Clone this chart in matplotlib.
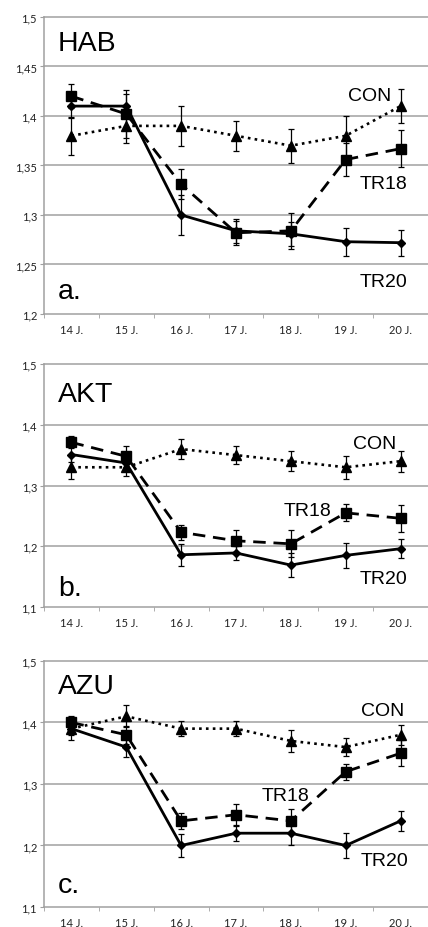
import matplotlib
matplotlib.use("Agg")
import matplotlib.pyplot as plt
from matplotlib.ticker import FuncFormatter

days = ["14 J.", "15 J.", "16 J.", "17 J.", "18 J.", "19 J.", "20 J."]

# Panel a: HAB
hab_tr20 = [1.41, 1.41, 1.30, 1.284, 1.281, 1.273, 1.272]
hab_tr20_err = [0.012, 0.012, 0.02, 0.012, 0.012, 0.014, 0.013]
hab_tr18 = [1.42, 1.402, 1.331, 1.282, 1.284, 1.356, 1.367]
hab_tr18_err = [0.012, 0.024, 0.015, 0.012, 0.018, 0.017, 0.019]
hab_con = [1.38, 1.39, 1.39, 1.38, 1.37, 1.38, 1.41]
hab_con_err = [0.019, 0.017, 0.02, 0.015, 0.017, 0.02, 0.017]

# Panel b: AKT
akt_tr20 = [1.351, 1.337, 1.186, 1.189, 1.169, 1.185, 1.196]
akt_tr20_err = [0.012, 0.012, 0.018, 0.012, 0.02, 0.021, 0.016]
akt_tr18 = [1.371, 1.348, 1.223, 1.209, 1.204, 1.255, 1.246]
akt_tr18_err = [0.01, 0.017, 0.012, 0.018, 0.022, 0.014, 0.022]
akt_con = [1.33, 1.33, 1.36, 1.35, 1.34, 1.33, 1.34]
akt_con_err = [0.019, 0.015, 0.017, 0.015, 0.016, 0.019, 0.017]

# Panel c: AZU
azu_tr20 = [1.39, 1.36, 1.20, 1.22, 1.22, 1.20, 1.24]
azu_tr20_err = [0.01, 0.016, 0.018, 0.013, 0.02, 0.021, 0.016]
azu_tr18 = [1.40, 1.38, 1.24, 1.25, 1.24, 1.32, 1.35]
azu_tr18_err = [0.01, 0.015, 0.013, 0.018, 0.02, 0.013, 0.021]
azu_con = [1.39, 1.41, 1.39, 1.39, 1.37, 1.36, 1.38]
azu_con_err = [0.019, 0.018, 0.012, 0.012, 0.018, 0.015, 0.016]

panels = [
    dict(name="HAB", letter="a.", ylim=(1.2, 1.5), step=0.05,
         tr20=(hab_tr20, hab_tr20_err), tr18=(hab_tr18, hab_tr18_err), con=(hab_con, hab_con_err),
         rect=[0.1028, 0.6606, 0.8972, 0.32],
         lab=dict(CON=(0.849, 0.734), TR18=(0.883, 0.441), TR20=(0.883, 0.108)),
         name_y=0.912, letter_y=0.077),
    dict(name="AKT", letter="b.", ylim=(1.1, 1.5), step=0.1,
         tr20=(akt_tr20, akt_tr20_err), tr18=(akt_tr18, akt_tr18_err), con=(akt_con, akt_con_err),
         rect=[0.1028, 0.3448, 0.8972, 0.2619],
         lab=dict(CON=(0.862, 0.671), TR18=(0.685, 0.399), TR20=(0.883, 0.119)),
         name_y=0.877, letter_y=0.078),
    dict(name="AZU", letter="c.", ylim=(1.1, 1.5), step=0.1,
         tr20=(azu_tr20, azu_tr20_err), tr18=(azu_tr18, azu_tr18_err), con=(azu_con, azu_con_err),
         rect=[0.1028, 0.02155, 0.8972, 0.2651],
         lab=dict(CON=(0.883, 0.80), TR18=(0.628, 0.455), TR20=(0.888, 0.191)),
         name_y=0.898, letter_y=0.089),
]

fig = plt.figure(figsize=(4.28, 9.28), dpi=100)
fig.patch.set_facecolor("white")
x = list(range(len(days)))
grid_c = "#a0a0a0"

def fmt(v, pos):
    s = ("%.2f" % v).rstrip("0")
    if s.endswith("."):
        s = s[:-1]
    return s.replace(".", ",")

for p in panels:
    ax = fig.add_axes(p["rect"])
    lo, hi = p["ylim"]
    ax.set_ylim(lo, hi)
    ax.set_xlim(-0.5, len(days) - 0.5)
    n = int(round((hi - lo) / p["step"]))
    yt = [lo + i * p["step"] for i in range(n + 1)]
    ax.set_yticks(yt)
    ax.yaxis.set_major_formatter(FuncFormatter(fmt))
    for yv in yt[1:]:
        ax.axhline(yv, color=grid_c, lw=1.1, zorder=0, clip_on=False)
    ax.set_xticks(x)
    ax.set_xticklabels(days, family="Lato")
    for t in ax.get_yticklabels():
        t.set_family("Lato")
    ax.set_xticks([i - 0.5 for i in range(len(days) + 1)], minor=True)
    ax.tick_params(axis="x", which="major", length=0, pad=7, labelsize=8, labelcolor="#222222")
    ax.tick_params(axis="x", which="minor", length=3, color=grid_c, direction="out")
    ax.tick_params(axis="y", length=3, color=grid_c, labelsize=8, labelcolor="#222222", pad=2)
    for s in ["top", "right"]:
        ax.spines[s].set_visible(False)
    for s in ["left", "bottom"]:
        ax.spines[s].set_color(grid_c)
        ax.spines[s].set_linewidth(1.1)

    y, e = p["con"]
    ax.errorbar(x, y, yerr=e, color="black", ls=(0, (1, 1.6)), lw=1.9, marker="^", ms=7.5,
                capsize=2.5, elinewidth=0.9, capthick=0.9, zorder=3)
    y, e = p["tr18"]
    ax.errorbar(x, y, yerr=e, color="black", ls=(0, (4.5, 2.8)), lw=2.0, marker="s", ms=7,
                capsize=2.5, elinewidth=0.9, capthick=0.9, zorder=4)
    y, e = p["tr20"]
    ax.errorbar(x, y, yerr=e, color="black", ls="-", lw=2.0, marker="D", ms=4.5,
                capsize=2.5, elinewidth=0.9, capthick=0.9, zorder=5)

    ax.text(0.036, p["name_y"], p["name"], transform=ax.transAxes, fontsize=20.5,
            family="Liberation Sans", va="center", ha="left")
    ax.text(0.036, p["letter_y"], p["letter"], transform=ax.transAxes, fontsize=20.5,
            family="Liberation Sans", va="center", ha="left")
    for k, (lx, ly) in p["lab"].items():
        ax.text(lx, ly, k, transform=ax.transAxes, fontsize=14,
                family="Liberation Sans", va="center", ha="center")

fig.savefig("out.png", dpi=100, facecolor="white")
